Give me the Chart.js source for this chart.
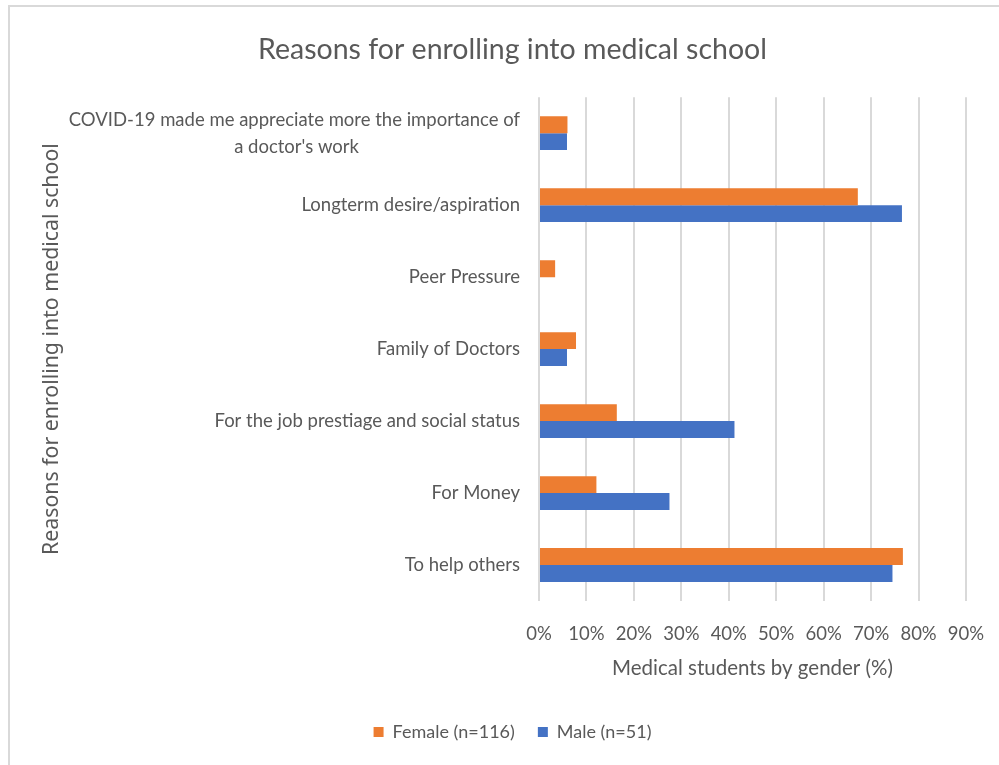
<!DOCTYPE html>
<html>
<head>
<meta charset="utf-8">
<script src="https://cdn.jsdelivr.net/npm/chart.js@4.4.1/dist/chart.umd.min.js"></script>
<style>
  html, body { margin: 0; padding: 0; background: #ffffff; }
  #wrap { position: relative; width: 999px; height: 765px; }
  #frame { position: absolute; left: 8px; top: 5px; width: 991px; height: 760px;
           border-top: 2px solid #d9d9d9; border-left: 2px solid #d9d9d9; box-sizing: border-box; pointer-events: none; }
  canvas { display: block; }
</style>
</head>
<body>
<div id="wrap">
  <canvas id="c" width="999" height="765"></canvas>
  <div id="frame"></div>
</div>
<script>
const chartTitle = 'Reasons for enrolling into medical school';
const xAxisTitle = 'Medical students by gender (%)';
const yAxisTitle = 'Reasons for enrolling into medical school';
const categories = [
  ['COVID-19 made me appreciate more the importance of', "a doctor's work"],
  'Longterm desire/aspiration',
  'Peer Pressure',
  'Family of Doctors',
  'For the job prestiage and social status',
  'For Money',
  'To help others'
];
const seriesNames = ['Female (n=116)', 'Male (n=51)'];
const femaleValues = [6.0, 67.2, 3.4, 7.8, 16.4, 12.1, 76.7];
const maleValues = [5.9, 76.5, 0, 5.9, 41.2, 27.5, 74.5];
const xTicks = [0, 10, 20, 30, 40, 50, 60, 70, 80, 90];

const GREY = '#595959';
const TICK_FONT = { family: 'Lato', size: 18.5, lineHeight: 1.45 };
const PAD_L = 59, PAD_R = 33, PLOT_LEFT = 539;

// center the continuation line of a wrapped label under its first line
const mctx = document.createElement('canvas').getContext('2d');
mctx.font = TICK_FONT.size + 'px ' + TICK_FONT.family;
function centerLines(lbl) {
  if (!Array.isArray(lbl)) return lbl;
  const w0 = mctx.measureText(lbl[0]).width;
  const sw = mctx.measureText(' ').width;
  return lbl.map((line, i) => {
    if (i === 0) return line;
    const w = mctx.measureText(line).width;
    const n = Math.max(0, Math.round((w0 - w) / 2 / sw));
    return line + ' '.repeat(n);
  });
}

new Chart(document.getElementById('c'), {
  type: 'bar',
  data: {
    labels: categories,
    datasets: [
      { label: seriesNames[0], data: femaleValues, backgroundColor: '#ED7D31' },
      { label: seriesNames[1], data: maleValues, backgroundColor: '#4472C4' }
    ]
  },
  options: {
    indexAxis: 'y',
    responsive: false,
    animation: false,
    devicePixelRatio: 1,
    categoryPercentage: 0.47,
    barPercentage: 1,
    layout: { padding: { left: PAD_L, right: PAD_R, top: 0, bottom: 14 } },
    plugins: {
      title: {
        display: true, text: chartTitle, color: GREY,
        font: { family: 'Lato', size: 28.5, weight: 'normal' },
        padding: { top: 33, bottom: 30 }
      },
      legend: {
        position: 'bottom',
        labels: { color: GREY, font: { family: 'Lato', size: 18 }, boxWidth: 10, boxHeight: 10, padding: 23 }
      },
      tooltip: { enabled: false }
    },
    scales: {
      x: {
        min: 0, max: 90,
        afterBuildTicks: (s) => { s.ticks = xTicks.map(v => ({ value: v })); },
        afterFit: (s) => { s.height = 99; s.paddingLeft = 0; s.paddingRight = 0; },
        ticks: { color: GREY, font: { family: 'Lato', size: 18.5 }, padding: 22, callback: (v) => v + '%' },
        grid: { color: '#d9d9d9', lineWidth: 2, drawTicks: false },
        border: { display: false },
        title: { display: true, text: xAxisTitle, color: GREY, font: { family: 'Lato', size: 20.5 }, padding: { top: 0, bottom: 19 } }
      },
      y: {
        afterFit: (s) => { s.width = PLOT_LEFT - PAD_L; },
        ticks: { color: GREY, font: TICK_FONT, padding: 19, callback: function (v, i) { return centerLines(categories[i]); } },
        grid: { display: false, drawTicks: false },
        border: { display: false },
        title: { display: true, text: yAxisTitle, color: GREY, font: { family: 'Noto Sans', size: 21.3 }, padding: { top: -20, bottom: 0 } }
      }
    }
  }
});
</script>
</body>
</html>
